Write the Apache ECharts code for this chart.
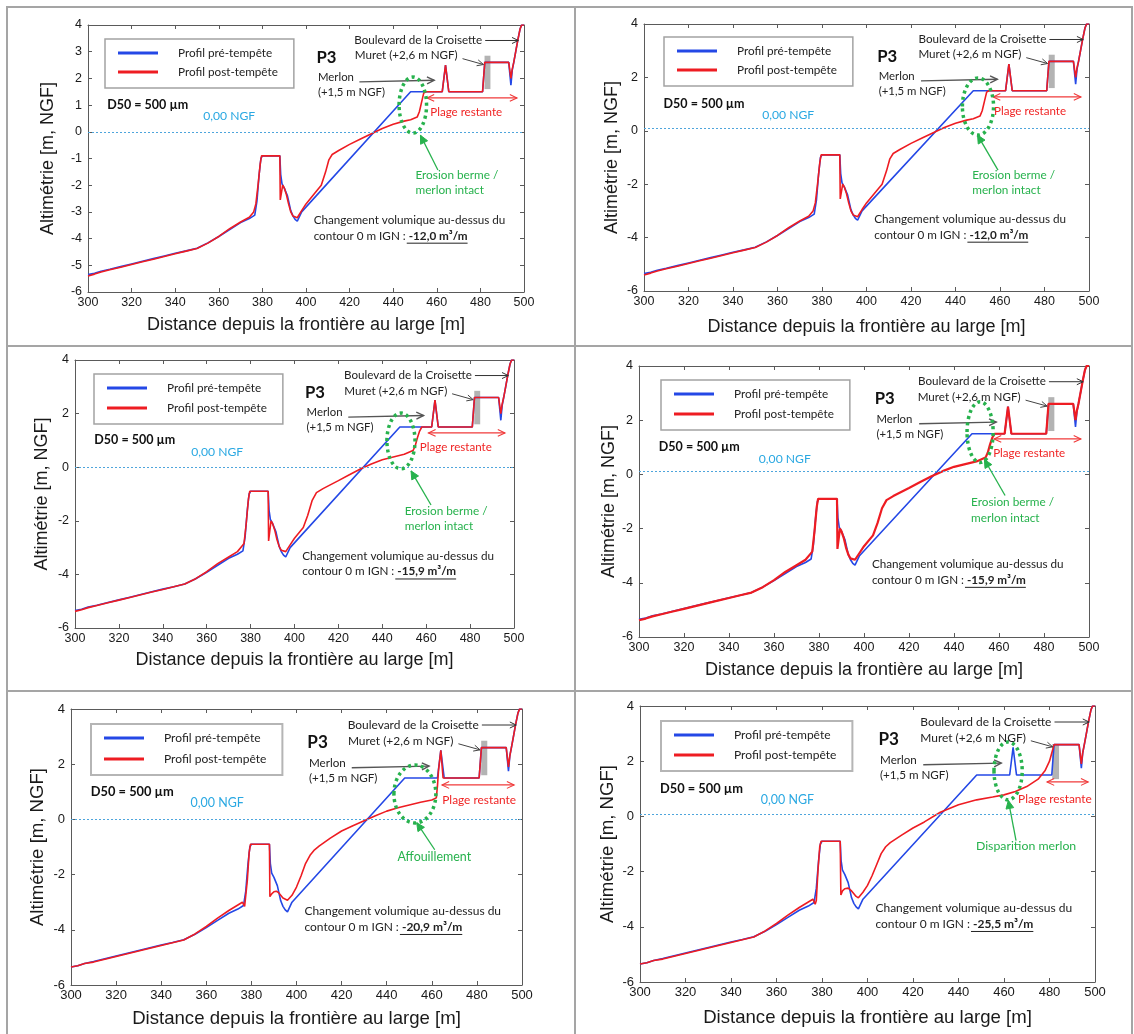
<!DOCTYPE html>
<html lang="fr">
<head>
<meta charset="utf-8">
<title>Profils P3</title>
<script src="https://cdn.jsdelivr.net/npm/echarts@6.0.0/dist/echarts.min.js"></script>
<style>
html,body{margin:0;padding:0;background:#fff;width:1134px;height:1034px;overflow:hidden;}
.rule{position:absolute;background:#a5a5a5;}
#chart{position:absolute;left:0;top:0;width:1134px;height:1034px;}
</style>
</head>
<body>
<div class="rule" style="left:6px;top:6px;width:1127px;height:2px"></div>
<div class="rule" style="left:6px;top:345px;width:1127px;height:2px"></div>
<div class="rule" style="left:6px;top:690px;width:1127px;height:2px"></div>
<div class="rule" style="left:6px;top:6px;width:2px;height:1028px"></div>
<div class="rule" style="left:574px;top:6px;width:2px;height:1028px"></div>
<div class="rule" style="left:1131px;top:6px;width:2px;height:1028px"></div>
<div id="chart"></div>
<script>
// ---------------- DATA ----------------
const xTicks = [300, 320, 340, 360, 380, 400, 420, 440, 460, 480, 500];
const yTicksFine = [-6, -5, -4, -3, -2, -1, 0, 1, 2, 3, 4];
const yTicksCoarse = [-6, -4, -2, 0, 2, 4];
const seriesNames = ['Profil pré-tempête', 'Profil post-tempête'];

// pre-storm profile (same in every panel)
const preX = [300,303,306,310,315,320,325,330,335,340,345,350,355,360,365,370,374,376.5,377.5,378.5,379.3,380,388,388.4,389,390,391.5,393,394,395,396,398,448,462.5,464,465.5,481,482,493,494,494.6,495.3,496.2,497.2,498.2,498.9,500];
const preY = [-5.35,-5.3,-5.22,-5.15,-5.05,-4.95,-4.85,-4.75,-4.65,-4.55,-4.46,-4.36,-4.16,-3.92,-3.66,-3.4,-3.25,-3.12,-2.6,-1.6,-1.0,-0.9,-0.9,-1.6,-1.95,-2.1,-2.4,-2.95,-3.15,-3.28,-3.35,-3.0,1.5,1.5,2.5,1.5,1.5,2.6,2.6,1.75,2.3,2.6,3.0,3.45,3.85,4.0,4.0];

// post-storm profile, scenario -12,0 m3/m
const post12X = [300,303,306,310,315,320,325,330,335,340,345,350,355,360,365,370,374,376,377,378,379,379.6,388,388.2,388.8,389.3,390,391,392,393,394,396,398,400,404,407,409,410.5,412,415,420,425,430,435,440,445,448,451,452,453,454,455,462.5,464,465.5,481,482,493,494,494.6,495.3,496.2,497.2,498.2,498.9,500];
const post12Y = [-5.4,-5.33,-5.25,-5.17,-5.07,-4.97,-4.87,-4.77,-4.67,-4.57,-4.47,-4.37,-4.17,-3.92,-3.63,-3.38,-3.2,-3.0,-2.7,-2.0,-1.2,-0.9,-0.9,-2.55,-2.5,-2.0,-2.1,-2.35,-2.7,-3.0,-3.15,-3.22,-2.95,-2.7,-2.3,-2.0,-1.5,-1.05,-0.85,-0.7,-0.47,-0.27,-0.07,0.12,0.28,0.4,0.45,0.55,0.75,1.1,1.45,1.5,1.5,2.5,1.5,1.5,2.6,2.6,2.0,2.35,2.6,3.0,3.45,3.85,4.0,4.0];

// post-storm profile, scenario -15,9 m3/m
const post159X = [300,303,306,310,315,320,325,330,335,340,345,350,355,360,365,370,374,376,377,378,379,379.6,388,388.2,388.8,389.3,390,391,392,393,394,396,398,400,404,406,408,410,413,420,425,430,435,440,445,450,454,455,456,457,458,462.5,464,465.5,481,482,493,494,494.6,495.3,496.2,497.2,498.2,498.9,500];
const post159Y = [-5.38,-5.32,-5.24,-5.16,-5.06,-4.96,-4.86,-4.76,-4.66,-4.56,-4.46,-4.36,-4.16,-3.9,-3.6,-3.35,-3.15,-2.95,-2.85,-2.1,-1.2,-0.9,-0.9,-2.75,-2.7,-2.0,-2.1,-2.35,-2.7,-2.95,-3.1,-3.15,-2.9,-2.65,-2.25,-1.8,-1.25,-0.95,-0.8,-0.5,-0.28,-0.07,0.12,0.28,0.38,0.48,0.62,0.8,1.1,1.35,1.5,1.5,2.5,1.5,1.5,2.6,2.6,2.0,2.35,2.6,3.0,3.45,3.85,4.0,4.0];

// post-storm profile, scenario -20,9 m3/m
const post209X = [300,303,306,310,315,320,325,330,335,340,345,350,355,360,365,370,374,376,377,377.5,378.2,379,379.6,388,388.2,389,390,391,392,394,396,398,400,402,404,406,408,410,415,420,425,430,435,440,445,450,455,460,462,462.5,463,464,465,481,482,493,494,494.6,495.3,496.2,497.2,498.2,498.9,500];
const post209Y = [-5.35,-5.3,-5.22,-5.17,-5.07,-4.97,-4.87,-4.77,-4.67,-4.57,-4.47,-4.37,-4.15,-3.88,-3.58,-3.3,-3.1,-3.0,-3.15,-3.1,-2.2,-1.2,-0.9,-0.9,-2.8,-2.7,-2.62,-2.6,-2.65,-2.85,-2.93,-2.75,-2.45,-2.05,-1.6,-1.3,-1.1,-0.97,-0.68,-0.42,-0.23,-0.05,0.13,0.3,0.42,0.52,0.62,0.7,0.78,1.2,1.8,2.5,1.5,1.5,2.6,2.6,1.9,2.3,2.6,3.0,3.45,3.85,4.0,4.0];

// post-storm profile, scenario -25,5 m3/m
const post255X = [300,303,306,310,315,320,325,330,335,340,345,350,355,360,365,370,374,376,377,377.5,378.2,379,379.6,388,388.3,389,390,391.5,393,395,396,398,400,402,404,406,408,410,415,420,425,432,440,448,455,460,465,470,475,478,480,481,482,493,494,494.6,495.3,496.2,497.2,498.2,498.9,500];
const post255Y = [-5.35,-5.3,-5.22,-5.17,-5.07,-4.97,-4.87,-4.77,-4.67,-4.57,-4.47,-4.37,-4.15,-3.88,-3.58,-3.3,-3.1,-3.0,-3.18,-3.05,-2.0,-1.1,-0.9,-0.9,-2.85,-2.7,-2.62,-2.6,-2.7,-2.9,-2.95,-2.75,-2.5,-2.15,-1.75,-1.35,-1.1,-0.95,-0.68,-0.42,-0.2,0.15,0.42,0.6,0.7,0.78,0.9,1.08,1.35,1.65,2.0,2.3,2.6,2.6,1.9,2.3,2.6,3.0,3.45,3.85,4.0,4.0];

const panelPost = [[post12X, post12Y], [post12X, post12Y], [post159X, post159Y], [post159X, post159Y], [post209X, post209Y], [post255X, post255Y]];
const volumeChange = ['-12,0', '-12,0', '-15,9', '-15,9', '-20,9', '-25,5'];
const zeroLevel = [0, 0.1, 0, 0.1, 0, 0.07];
const greenLabels = [
  ['Erosion berme /', 'merlon intact'], ['Erosion berme /', 'merlon intact'],
  ['Erosion berme /', 'merlon intact'], ['Erosion berme /', 'merlon intact'],
  ['Affouillement'], ['Disparition merlon']
];

// ---------------- LAYOUT (pixels) ----------------
const LAYOUT = [
  {grid:[88,25,436,267],  yTicks:yTicksFine,   yNameGap:31,   xNameGap:24, legend:[105,39], legendGap:5, tickFs:12.5, titleFs:18,   postW:1.6},
  {grid:[644,24,445,267], yTicks:yTicksCoarse, yNameGap:23,   xNameGap:27, legend:[664,37], legendGap:5, tickFs:12.5, titleFs:18,   postW:1.6},
  {grid:[75,360,439,268], yTicks:yTicksCoarse, yNameGap:23.5, xNameGap:23, legend:[94,374], legendGap:6, tickFs:12.5, titleFs:18,   postW:1.6},
  {grid:[639,366,450,271],yTicks:yTicksCoarse, yNameGap:21,   xNameGap:24, legend:[661,380],legendGap:6, tickFs:12.5, titleFs:18,   postW:2.2},
  {grid:[71,709,451,276], yTicks:yTicksCoarse, yNameGap:23.5, xNameGap:24, legend:[91,724], legendGap:7, tickFs:13,   titleFs:18.6, postW:1.6},
  {grid:[640,706,455,276],yTicks:yTicksCoarse, yNameGap:23,   xNameGap:26, legend:[661,721],legendGap:6, tickFs:13,   titleFs:18.6, postW:1.6}
];

// annotation anchors, expressed in axis units so they follow the scales
const ANN_BASE = {
  p3:[404.8,2.78], boulevard:[480.8,3.42], boulevardArrow:[[482.2,3.42],[497.4,3.42]],
  muret:[469.6,2.85], muretArrow:[[471.8,2.74],[481.4,2.52]],
  merlon:[405.5,2.03], merlon2:[405.5,1.48], merlonArrow:[[424.5,1.87],[458.8,1.93]],
  ellipse:[449,1.0,6.3,1.05], plageArrow:[[455.5,1.27],[496.8,1.27]], plage:[473.5,0.75],
  greenPos:[450.2,-1.63,-2.2], greenAlign:'left', greenW:83, greenArrow:[[460.5,-1.43],[452.5,-0.13]],
  ngf:[364.8,0.58], d50:[308.8,1.0], vol:[403.5,-3.33,-3.9], muretBar:[481.9,484.6,1.6,2.85], scale:1
};
const ANN_OVR = [
  {},
  {ellipse:[450.1,0.91,7.0,1.07], greenPos:[447.5,-1.66,-2.22], greenArrow:[[459.1,-1.47],[449.9,-0.16]], plageArrow:[[456.9,1.27],[496.4,1.27]]},
  {plageArrow:[[461,1.28],[495.9,1.28]], ellipse:[448.5,0.98,6.4,1.04], greenArrow:[[462.2,-1.41],[453.1,-0.14]]},
  {ellipse:[451.6,1.56,5.8,1.12], greenPos:[447.6,-1.02,-1.6], greenArrow:[[462.7,-0.78],[453.5,0.55]], plageArrow:[[457.8,1.31],[496.4,1.31]], plage:[473.4,0.79]},
  {ellipse:[452.5,0.92,9.3,1.05], plageArrow:[[464.5,1.25],[496.5,1.25]], plage:[481,0.7], greenPos:[461.1,-1.36], greenAlign:'center', greenW:72, greenArrow:[[461.3,-1.1],[453.3,-0.12]], scale:1.025},
  {ellipse:[461.8,1.65,6.2,1.05], plageArrow:[[478.9,1.25],[497,1.25]], plage:[482.4,0.63], greenPos:[469.7,-1.07], greenAlign:'center', greenW:98, greenArrow:[[465.3,-0.88],[461.9,0.58]], muretBar:[481.2,484.2,1.35,2.62], scale:1.025}
];

// ---------------- STYLES ----------------
const BLUE = '#2448e6', RED = '#ee1c22', AXIS = '#5a5a5a', GREEN = '#27b24d';
const AXFONT = 'Liberation Sans', ANFONT = 'Lato';

const mctx = document.createElement('canvas').getContext('2d');
function fitSize(t, w, weight) { mctx.font = (weight || 'normal') + ' 100px ' + ANFONT; return 100 * w / mctx.measureText(t).width; }
function textW(t, fs, weight) { mctx.font = (weight || 'normal') + ' ' + fs + 'px ' + ANFONT; return mctx.measureText(t).width; }
const zip = (xs, ys) => xs.map((x, k) => [x, ys[k]]);

const chart = echarts.init(document.getElementById('chart'), null, {renderer: 'canvas'});
const grids = [], xAxes = [], yAxes = [], series = [], legends = [];

LAYOUT.forEach((L, i) => {
  const s = ANN_OVR[i].scale || 1;
  grids.push({left: L.grid[0], top: L.grid[1], width: L.grid[2], height: L.grid[3], containLabel: false});
  const xb = {gridIndex: i, type: 'value', min: xTicks[0], max: xTicks[xTicks.length - 1], interval: xTicks[1] - xTicks[0],
    axisLine: {show: true, onZero: false, lineStyle: {color: AXIS, width: 1}},
    axisTick: {show: true, inside: true, length: 4, lineStyle: {color: AXIS}}, splitLine: {show: false}};
  xAxes.push(Object.assign({}, xb, {position: 'bottom',
    axisLabel: {show: true, margin: 4, fontSize: L.tickFs, color: '#1a1a1a', fontFamily: AXFONT},
    name: 'Distance depuis la frontière au large [m]', nameLocation: 'middle', nameGap: L.xNameGap,
    nameTextStyle: {fontSize: L.titleFs, color: '#1a1a1a', fontFamily: AXFONT}}));
  xAxes.push(Object.assign({}, xb, {position: 'top', axisLabel: {show: false}}));
  const yt = L.yTicks;
  const yb = {gridIndex: i, type: 'value', min: yt[0], max: yt[yt.length - 1], interval: yt[1] - yt[0],
    axisLine: {show: true, onZero: false, lineStyle: {color: AXIS, width: 1}},
    axisTick: {show: true, inside: true, length: 4, lineStyle: {color: AXIS}}, splitLine: {show: false}};
  yAxes.push(Object.assign({}, yb, {position: 'left',
    axisLabel: {show: true, margin: 6, fontSize: L.tickFs, color: '#1a1a1a', fontFamily: AXFONT},
    name: 'Altimétrie [m, NGF]', nameLocation: 'middle', nameGap: L.yNameGap, nameRotate: 90,
    nameTextStyle: {fontSize: L.titleFs, color: '#1a1a1a', fontFamily: AXFONT}}));
  yAxes.push(Object.assign({}, yb, {position: 'right', axisLabel: {show: false}}));

  series.push({name: seriesNames[0], type: 'line', xAxisIndex: 2 * i, yAxisIndex: 2 * i, data: zip(preX, preY),
    showSymbol: false, symbol: 'none', z: 3, emphasis: {disabled: true},
    lineStyle: {color: BLUE, width: 1.6}, itemStyle: {color: BLUE},
    markLine: {silent: true, symbol: ['none', 'none'], label: {show: false}, emphasis: {disabled: true},
      lineStyle: {color: '#4ea5dc', type: [2, 2], width: 1}, data: [{yAxis: zeroLevel[i]}]}});
  series.push({name: seriesNames[1], type: 'line', xAxisIndex: 2 * i, yAxisIndex: 2 * i, data: zip(panelPost[i][0], panelPost[i][1]),
    showSymbol: false, symbol: 'none', z: 4, emphasis: {disabled: true},
    lineStyle: {color: RED, width: L.postW}, itemStyle: {color: RED}});

  legends.push({left: L.legend[0], top: L.legend[1], orient: 'vertical', icon: 'rect', itemWidth: 40, itemHeight: 3,
    itemGap: L.legendGap, padding: [7, 16, 9, 13], borderColor: i >= 4 ? '#b5b5b5' : '#a3a3a3', borderWidth: i >= 4 ? 2 : 1.5,
    selectedMode: false, data: seriesNames,
    textStyle: {fontFamily: ANFONT, fontSize: fitSize('Profil post-tempête', 100 * s), color: '#222', padding: [0, 0, 0, 15], lineHeight: 14}});
});

chart.setOption({animation: false, backgroundColor: 'transparent', grid: grids, xAxis: xAxes, yAxis: yAxes, legend: legends, series: series});

// ---------------- ANNOTATIONS ----------------
function arrow(els, p0, p1, color, lw, head, both, filled) {
  els.push({type: 'polyline', z: 15, silent: true, shape: {points: [p0, p1]}, style: {stroke: color, lineWidth: lw, fill: 'none'}});
  const ends = both ? [[p1, p0], [p0, p1]] : [[p0, p1]];
  ends.forEach(([a, b]) => {
    const ang = Math.atan2(b[1] - a[1], b[0] - a[0]), d = Math.PI / 7;
    const h1 = [b[0] - head * Math.cos(ang - d), b[1] - head * Math.sin(ang - d)];
    const h2 = [b[0] - head * Math.cos(ang + d), b[1] - head * Math.sin(ang + d)];
    if (filled) els.push({type: 'polygon', z: 15, silent: true, shape: {points: [h1, b, h2]}, style: {fill: color, stroke: color, lineWidth: 1}});
    else els.push({type: 'polyline', z: 15, silent: true, shape: {points: [h1, b, h2]}, style: {stroke: color, lineWidth: lw, fill: 'none'}});
  });
}

const els = [];
ANN_OVR.forEach((ovr, i) => {
  const A = Object.assign({}, ANN_BASE, ovr);
  const s = A.scale;
  const P = (x, y) => chart.convertToPixel({xAxisIndex: 2 * i, yAxisIndex: 2 * i}, [x, y]);
  const txt = (pos, str, fs, opts) => {
    const p = P(pos[0], pos[1]);
    els.push({type: 'text', x: p[0], y: p[1], z: 20, silent: true,
      style: Object.assign({text: str, fontSize: fs, fontFamily: ANFONT, fill: '#222', align: 'left', verticalAlign: 'middle'}, opts || {})});
  };
  // muret bar
  const b0 = P(A.muretBar[0], A.muretBar[3]), b1 = P(A.muretBar[1], A.muretBar[2]);
  els.push({type: 'rect', z: 1, silent: true, shape: {x: b0[0], y: b0[1], width: b1[0] - b0[0], height: b1[1] - b0[1]}, style: {fill: '#b3b3b3'}});

  const fsSmall = fitSize('Boulevard de la Croisette', 128 * s);
  const fsMer = fitSize('(+1,5 m NGF)', 67 * s);
  txt(A.p3, 'P3', fitSize('P3', 20 * s, 'bold'), {fontWeight: 'bold', fill: '#111'});
  txt(A.boulevard, 'Boulevard de la Croisette', fsSmall, {align: 'right'});
  arrow(els, P(...A.boulevardArrow[0]), P(...A.boulevardArrow[1]), '#333', 1, 7, false, false);
  txt(A.muret, 'Muret (+2,6 m NGF)', fsSmall, {align: 'right'});
  arrow(els, P(...A.muretArrow[0]), P(...A.muretArrow[1]), '#444', 1, 7, false, false);
  txt(A.merlon, 'Merlon', fsMer);
  txt(A.merlon2, '(+1,5 m NGF)', fsMer);
  arrow(els, P(...A.merlonArrow[0]), P(...A.merlonArrow[1]), '#555', 1.4, 8, false, false);

  // green dotted ellipse
  const c = P(A.ellipse[0], A.ellipse[1]), e = P(A.ellipse[0] + A.ellipse[2], A.ellipse[1] + A.ellipse[3]);
  els.push({type: 'ellipse', z: 16, silent: true, shape: {cx: c[0], cy: c[1], rx: Math.abs(e[0] - c[0]), ry: Math.abs(c[1] - e[1])},
    style: {fill: 'none', stroke: GREEN, lineWidth: 3.5, lineDash: [3, 3.5]}});

  // plage restante
  arrow(els, P(...A.plageArrow[0]), P(...A.plageArrow[1]), '#f03a3a', 1.1, 8, true, false);
  txt(A.plage, 'Plage restante', fitSize('Plage restante', 72 * s), {align: 'center', fill: '#f02424'});

  // green label
  const gl = greenLabels[i];
  const fsG = fitSize(gl[0], A.greenW * s);
  txt([A.greenPos[0], A.greenPos[1]], gl[0], fsG, {align: A.greenAlign, fill: GREEN});
  if (gl[1]) txt([A.greenPos[0], A.greenPos[2]], gl[1], fsG, {align: A.greenAlign, fill: GREEN});
  arrow(els, P(...A.greenArrow[0]), P(...A.greenArrow[1]), GREEN, 1.3, 9, false, true);

  txt(A.ngf, '0,00 NGF', fitSize('0,00 NGF', 52 * s), {align: 'center', fill: '#2aa8e2'});
  txt(A.d50, 'D50 = 500 µm', fitSize('D50 = 500 µm', 81 * s, 'bold'), {fontWeight: 'bold', fill: '#111'});

  const fsV = fitSize('Changement volumique au-dessus du', 192 * s);
  txt([A.vol[0], A.vol[1]], 'Changement volumique au-dessus du', fsV);
  const partA = 'contour 0 m IGN : ', partB = volumeChange[i] + ' m³/m';
  const pv = P(A.vol[0], A.vol[2]);
  els.push({type: 'text', x: pv[0], y: pv[1], z: 20, silent: true,
    style: {text: '{a|' + partA + '}{b|' + partB + '}', align: 'left', verticalAlign: 'middle',
      fontSize: fsV, fontFamily: ANFONT, fill: '#222',
      rich: {a: {fontSize: fsV, fontFamily: ANFONT, fill: '#222'}, b: {fontSize: fsV, fontFamily: ANFONT, fontWeight: 'bold', fill: '#222'}}}});
  const wa = textW(partA, fsV), wb = textW(partB, fsV, 'bold');
  const uy = pv[1] + fsV * 0.62;
  els.push({type: 'line', z: 20, silent: true, shape: {x1: pv[0] + wa - 2, y1: uy, x2: pv[0] + wa + wb, y2: uy}, style: {stroke: '#222', lineWidth: 1}});
});

chart.setOption({graphic: {elements: els}});
</script>
</body>
</html>
